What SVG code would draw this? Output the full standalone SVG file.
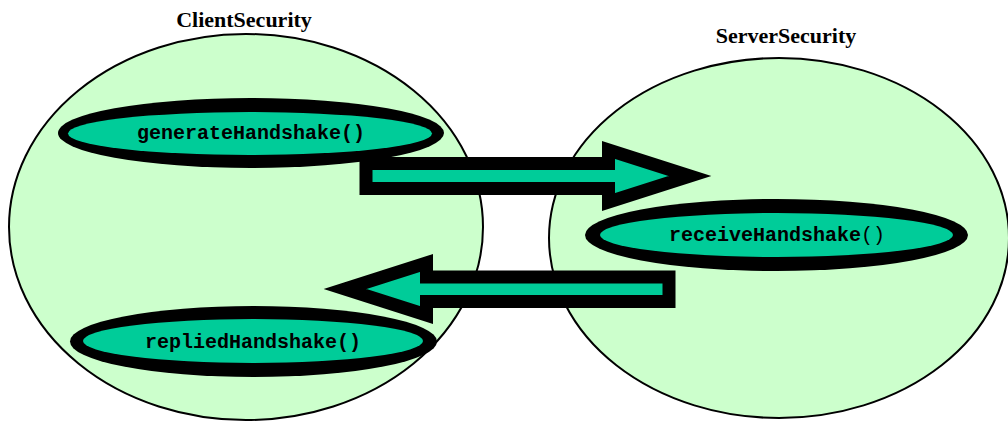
<svg xmlns="http://www.w3.org/2000/svg" width="1008" height="421" viewBox="0 0 1008 421">
<style>
.big{fill:#CCFFCC;stroke:#000;stroke-width:2}
.rim{fill:#000}
.core{fill:#00CC99}
.title{font-family:"Liberation Serif","Times New Roman",serif;font-weight:bold;font-size:22px;text-anchor:middle;fill:#000}
.lbl{font-family:"Liberation Mono","Courier New",monospace;font-weight:bold;font-size:20px;text-anchor:middle;fill:#000}
.arrow{fill:#00CC99;stroke:#000;stroke-width:13;stroke-linejoin:miter;stroke-miterlimit:10}
</style>
<rect width="1008" height="421" fill="#fff"/>
<g id="ClientSecurity">
<ellipse class="big" cx="246" cy="227" rx="237" ry="193"/>
<text class="title" x="244" y="27">ClientSecurity</text>
</g>
<g id="ServerSecurity">
<ellipse class="big" cx="779" cy="238" rx="230" ry="180"/>
<text class="title" x="786" y="43">ServerSecurity</text>
</g>
<g id="generateHandshake">
<ellipse class="rim" cx="251" cy="133" rx="193" ry="35"/>
<ellipse class="core" cx="250" cy="133.5" rx="182" ry="21.5"/>
<text class="lbl" x="251" y="139">generateHandshake()</text>
</g>
<g id="repliedHandshake">
<ellipse class="rim" cx="253.5" cy="341.5" rx="183.5" ry="35.5"/>
<ellipse class="core" cx="253" cy="341" rx="170" ry="22"/>
<text class="lbl" x="253" y="348">repliedHandshake()</text>
</g>
<g id="receiveHandshake">
<ellipse class="rim" cx="776.5" cy="235" rx="191.5" ry="36"/>
<ellipse class="core" cx="776.5" cy="235" rx="176.5" ry="22"/>
<text class="lbl" x="777" y="241">receiveHandshake<tspan font-weight="normal">()</tspan></text>
</g>
<g id="connectors">
<polygon class="arrow" points="366,163.5 608.5,163.5 608.5,150 690,176 608.5,202 608.5,188.5 366,188.5"/>
<polygon class="arrow" points="669,277 426.5,277 426.5,263 345,289 426.5,315 426.5,301.5 669,301.5"/>
</g>
</svg>
